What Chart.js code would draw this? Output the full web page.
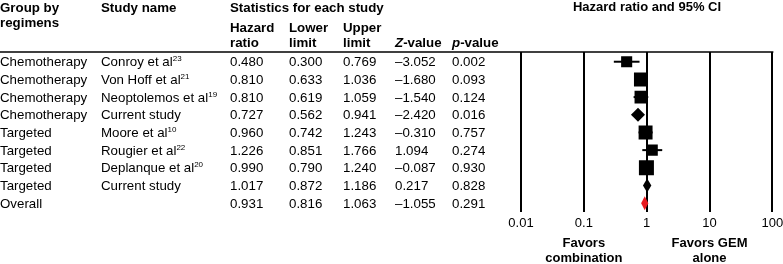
<!DOCTYPE html>
<html>
<head>
<meta charset="utf-8">
<title>Forest plot</title>
<script src="https://cdn.jsdelivr.net/npm/chart.js@4.4.1/dist/chart.umd.min.js"></script>
<style>
  body { margin: 0; background: #fff; }
  #wrap { position: relative; width: 783px; height: 264px; font-family: "Liberation Sans", Arial, sans-serif; font-size: 13.3px; color: #000; }
  #forest { position: absolute; left: 0; top: 0; }
  .cell { position: absolute; white-space: nowrap; line-height: 15px; }
  .hd { font-weight: bold; }
  sup { font-size: 8px; line-height: 8px; vertical-align: 5px; }
</style>
</head>
<body>
<div id="wrap">
  <canvas id="forest" width="783" height="264"></canvas>
</div>
<script>
// rows of the table, top to bottom
const groups = ['Chemotherapy', 'Chemotherapy', 'Chemotherapy', 'Chemotherapy', 'Targeted', 'Targeted', 'Targeted', 'Targeted', 'Overall'];
const studies = ['Conroy et al', 'Von Hoff et al', 'Neoptolemos et al', 'Current study', 'Moore et al', 'Rougier et al', 'Deplanque et al', 'Current study', ''];
const refs = ['23', '21', '19', '', '10', '22', '20', '', ''];
const kinds = ['study', 'study', 'study', 'pooled', 'study', 'study', 'study', 'pooled', 'overall'];
const hazardRatio = [0.480, 0.810, 0.810, 0.727, 0.960, 1.226, 0.990, 1.017, 0.931];
const lowerLimit = [0.300, 0.633, 0.619, 0.562, 0.742, 0.851, 0.790, 0.872, 0.816];
const upperLimit = [0.769, 1.036, 1.059, 0.941, 1.243, 1.766, 1.240, 1.186, 1.063];
const zValue = [-3.052, -1.680, -1.540, -2.420, -0.310, 1.094, -0.087, 0.217, -1.055];
const pValue = [0.002, 0.093, 0.124, 0.016, 0.757, 0.274, 0.930, 0.828, 0.291];
// relative study weights
const weights = [12, 19, 16, null, 19, 12, 22, null, null];
const xTicks = [0.01, 0.1, 1, 10, 100];

const FONT = '"Liberation Sans", Arial, sans-serif';
const colX = [0, 101, 230, 289, 343, 395, 452];
const wrap = document.getElementById('wrap');

function addCell(html, x, yCenter, bold) {
    const d = document.createElement('div');
    d.className = 'cell' + (bold ? ' hd' : '');
    d.innerHTML = html;
    d.style.left = x + 'px';
    d.style.top = (yCenter - 7.5) + 'px';
    wrap.appendChild(d);
}

function fmtZ(v) {
    return (v < 0 ? '\u2013' : '') + Math.abs(v).toFixed(3);
}

function markerSide(w) {
    return 3.2 * Math.sqrt(w);
}

// whiskers, diamonds, header rule and the "favors" labels
const forestPlugin = {
    id: 'forest',
    beforeDatasetsDraw(chart) {
        const {ctx, chartArea, scales: {x, y}} = chart;
        ctx.save();
        ctx.strokeStyle = '#000';
        ctx.lineWidth = 1.5;
        ctx.beginPath();
        ctx.moveTo(0, chartArea.top);
        ctx.lineTo(chartArea.right + 1, chartArea.top);
        ctx.stroke();
        ctx.lineWidth = 2;
        kinds.forEach((k, i) => {
            if (k !== 'study') return;
            const py = y.getPixelForValue(i);
            ctx.beginPath();
            ctx.moveTo(x.getPixelForValue(lowerLimit[i]), py);
            ctx.lineTo(x.getPixelForValue(upperLimit[i]), py);
            ctx.stroke();
        });
        ctx.restore();
    },
    afterDatasetsDraw(chart) {
        const {ctx, scales: {x, y}} = chart;
        ctx.save();
        kinds.forEach((k, i) => {
            if (k === 'study') return;
            const py = y.getPixelForValue(i);
            const h = 7;
            ctx.fillStyle = k === 'overall' ? '#e8191f' : '#000';
            ctx.beginPath();
            ctx.moveTo(x.getPixelForValue(lowerLimit[i]), py);
            ctx.lineTo(x.getPixelForValue(hazardRatio[i]), py - h);
            ctx.lineTo(x.getPixelForValue(upperLimit[i]), py);
            ctx.lineTo(x.getPixelForValue(hazardRatio[i]), py + h);
            ctx.closePath();
            ctx.fill();
        });
        ctx.restore();
    },
    afterDraw(chart) {
        const {ctx, chartArea, scales: {x}} = chart;
        ctx.save();
        ctx.fillStyle = '#000';
        ctx.font = 'bold 13px ' + FONT;
        ctx.textAlign = 'center';
        ctx.textBaseline = 'middle';
        const b = chartArea.bottom;
        ctx.fillText('Favors', x.getPixelForValue(0.1), b + 31);
        ctx.fillText('combination', x.getPixelForValue(0.1), b + 46);
        ctx.fillText('Favors GEM', x.getPixelForValue(10), b + 31);
        ctx.fillText('alone', x.getPixelForValue(10), b + 46);
        ctx.restore();
    }
};

const ctx = document.getElementById('forest').getContext('2d');
const points = [];
kinds.forEach((k, i) => {
    if (k === 'study') points.push({x: hazardRatio[i], y: i, w: weights[i]});
});

const chart = new Chart(ctx, {
    type: 'scatter',
    data: {
        datasets: [{
            data: points,
            pointStyle: 'rect',
            pointRadius: c => markerSide(c.raw.w) / Math.SQRT2,
            backgroundColor: '#000',
            borderWidth: 0
        }]
    },
    options: {
        responsive: false,
        animation: false,
        layout: { padding: { left: 521, right: 10, top: 0, bottom: 32 } },
        plugins: {
            legend: { display: false },
            tooltip: { enabled: false },
            title: {
                display: true,
                text: 'Hazard ratio and 95% CI',
                color: '#000',
                font: { family: FONT, size: 13, weight: 'bold' },
                padding: { top: 0, bottom: 36.4 }
            }
        },
        scales: {
            x: {
                type: 'logarithmic',
                min: 0.01,
                max: 100,
                afterBuildTicks: axis => { axis.ticks = xTicks.map(v => ({value: v})); },
                afterFit: axis => { axis.paddingRight = 0; axis.paddingLeft = 0; axis.height = 20; },
                ticks: {
                    callback: v => String(v),
                    color: '#000',
                    font: { family: FONT, size: 13 },
                    autoSkip: false,
                    maxRotation: 0,
                    padding: 4
                },
                grid: { color: '#000', lineWidth: 2, drawTicks: false },
                border: { display: false }
            },
            y: { type: 'linear', min: -0.55, max: 8.5, reverse: true, display: false }
        }
    },
    plugins: [forestPlugin]
});

// table header
addCell('Group by', colX[0], 7, true);
addCell('regimens', colX[0], 22, true);
addCell('Study name', colX[1], 7, true);
addCell('Statistics for each study', colX[2], 7, true);
addCell('Hazard', colX[2], 27, true);
addCell('ratio', colX[2], 42, true);
addCell('Lower', colX[3], 27, true);
addCell('limit', colX[3], 42, true);
addCell('Upper', colX[4], 27, true);
addCell('limit', colX[4], 42, true);
addCell('<i>Z</i>-value', colX[5], 42, true);
addCell('<i>p</i>-value', colX[6], 42, true);

// table rows, placed on the same y scale as the markers
const yScale = chart.scales.y;
groups.forEach((g, i) => {
    const py = yScale.getPixelForValue(i);
    addCell(g, colX[0], py);
    addCell(studies[i] + (refs[i] ? '<sup>' + refs[i] + '</sup>' : ''), colX[1], py);
    addCell(hazardRatio[i].toFixed(3), colX[2], py);
    addCell(lowerLimit[i].toFixed(3), colX[3], py);
    addCell(upperLimit[i].toFixed(3), colX[4], py);
    addCell(fmtZ(zValue[i]), colX[5], py);
    addCell(pValue[i].toFixed(3), colX[6], py);
});
</script>
</body>
</html>
